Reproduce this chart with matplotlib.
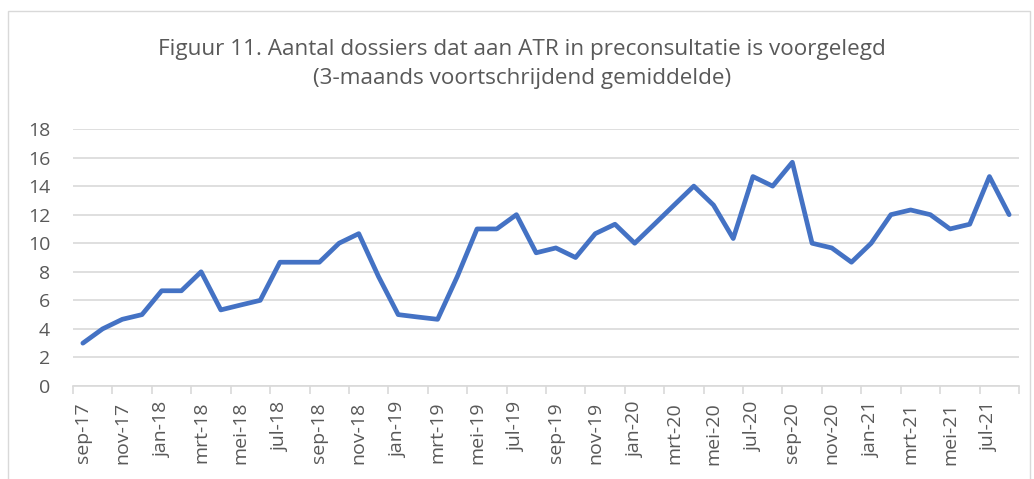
import matplotlib
matplotlib.use("Agg")
import matplotlib.pyplot as plt
from matplotlib.patches import Rectangle

months = ["sep-17","okt-17","nov-17","dec-17","jan-18","feb-18","mrt-18","apr-18","mei-18","jun-18","jul-18","aug-18",
          "sep-18","okt-18","nov-18","dec-18","jan-19","feb-19","mrt-19","apr-19","mei-19","jun-19","jul-19","aug-19",
          "sep-19","okt-19","nov-19","dec-19","jan-20","feb-20","mrt-20","apr-20","mei-20","jun-20","jul-20","aug-20",
          "sep-20","okt-20","nov-20","dec-20","jan-21","feb-21","mrt-21","apr-21","mei-21","jun-21","jul-21","aug-21"]
values = [3.0, 4.0, 4.67, 5.0, 6.67, 6.67, 8.0, 5.33, 5.67, 6.0, 8.67, 8.67,
          8.67, 10.0, 10.67, 7.67, 5.0, 4.83, 4.67, 7.67, 11.0, 11.0, 12.0, 9.33,
          9.67, 9.0, 10.67, 11.33, 10.0, 11.33, 12.67, 14.0, 12.67, 10.33, 14.67, 14.0,
          15.67, 10.0, 9.67, 8.67, 10.0, 12.0, 12.33, 12.0, 11.0, 11.33, 14.67, 12.0]
yticks = [0, 2, 4, 6, 8, 10, 12, 14, 16, 18]
title = "Figuur 11. Aantal dossiers dat aan ATR in preconsultatie is voorgelegd\n(3-maands voortschrijdend gemiddelde)"

plt.rcParams['font.family'] = ['Open Sans', 'DejaVu Sans']
W, H = 1034, 479
fig = plt.figure(figsize=(W/100, H/100), dpi=100)
ax = fig.add_axes([73/W, 1-386/H, (1019-73)/W, (386-129)/H])

n = len(values)
x = list(range(n))
ax.plot(x, values, color="#4472C4", linewidth=3.4, solid_joinstyle="round", solid_capstyle="round", zorder=3)

ax.set_xlim(-0.5, n-0.5)
ax.set_ylim(0, 18)
ax.set_yticks(yticks)
ax.set_yticklabels([str(v) for v in yticks])
ax.grid(axis='y', color="#d9d9d9", linewidth=1.2)
ax.set_axisbelow(True)

ax.set_xticks(x[::2])
ax.set_xticklabels(months[::2], rotation=90)
ax.set_xticks([i-0.5 for i in range(0, n+1, 2)], minor=True)
ax.tick_params(axis='x', which='major', length=0, pad=11.5, labelsize=14, labelcolor="#595959")
ax.tick_params(axis='x', which='minor', length=6, color="#d9d9d9", width=1.2)
ax.tick_params(axis='y', length=0, pad=16.5, labelsize=14, labelcolor="#595959")
for lab in ax.get_yticklabels():
    lab.set_horizontalalignment('right')

for s in ['top', 'right', 'left']:
    ax.spines[s].set_visible(False)
ax.spines['bottom'].set_color("#d9d9d9")
ax.spines['bottom'].set_linewidth(1.2)

fig.text(522/W, 1-64/H, title, ha='center', va='center', fontsize=16.2, color="#595959", linespacing=1.55)

fig.patches.append(Rectangle((8/W, -0.05), (1030-8)/W, 1.05-11/H, transform=fig.transFigure,
                             fill=False, edgecolor="#d9d9d9", linewidth=1.0))

fig.savefig("out.png", dpi=100, facecolor="white")
